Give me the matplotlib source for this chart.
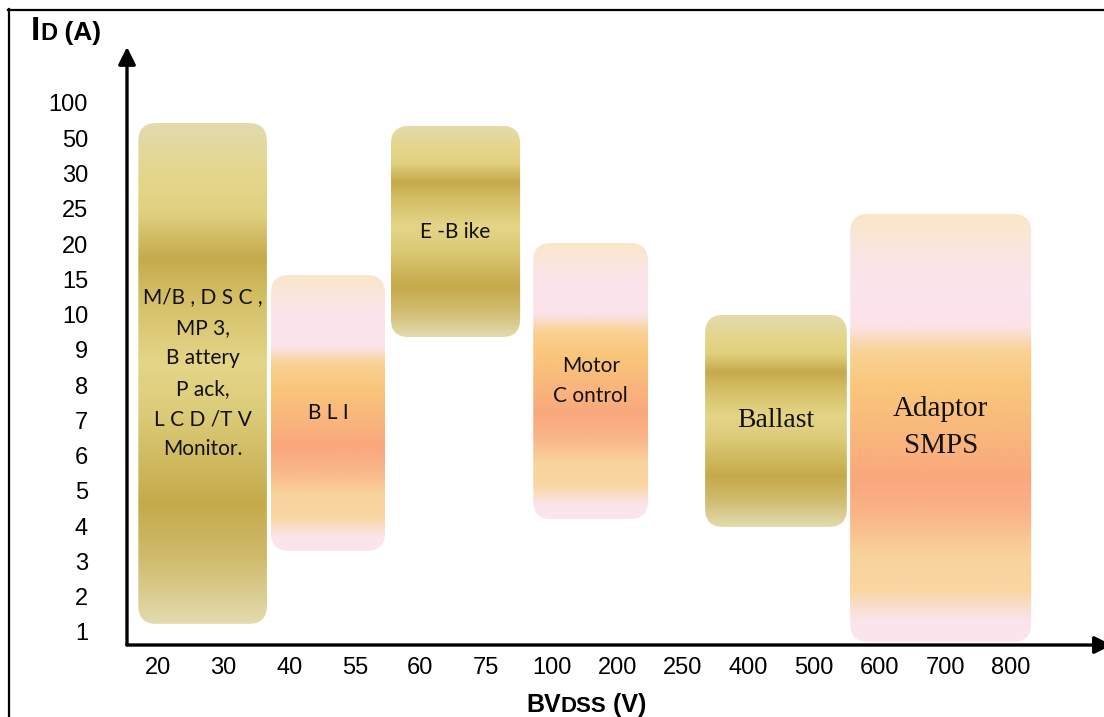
import numpy as np
import matplotlib
matplotlib.use("Agg")
import matplotlib.pyplot as plt
from matplotlib.colors import LinearSegmentedColormap
from matplotlib.patches import FancyBboxPatch
from matplotlib.lines import Line2D
from matplotlib.offsetbox import TextArea, HPacker, AnnotationBbox

# categorical axes
x_labels = ["20", "30", "40", "55", "60", "75", "100", "200", "250",
            "400", "500", "600", "700", "800"]
y_labels = ["1", "2", "3", "4", "5", "6", "7", "8", "9", "10",
            "15", "20", "25", "30", "50", "100"]

# application ranges, in category-index units (x: BVDSS, y: ID)
apps = ["M/B , D S C ,\nMP 3,\nB attery\nP ack,\nL C D /T V\nMonitor.",
        "B L I", "E -B ike", "Motor\nC ontrol", "Ballast", "Adaptor\nSMPS"]
app_x0 = [-0.30, 1.72, 3.55, 5.72, 8.34, 10.55]
app_x1 = [1.66, 3.46, 5.52, 7.47, 10.50, 13.31]
app_y0 = [0.23, 2.30, 8.36, 3.20, 2.98, -0.28]
app_y1 = [14.43, 10.12, 14.35, 11.03, 8.99, 11.85]
app_fill = ["gold", "peach", "gold", "peach", "gold", "peach"]

gold = LinearSegmentedColormap.from_list("gold", [
    (0.00, "#e3dbae"), (0.10, "#e4d68c"), (0.18, "#e0d07e"),
    (0.27, "#c5aa4b"), (0.35, "#d4bf66"), (0.48, "#e4d588"),
    (0.58, "#dccb78"), (0.76, "#c5aa4a"), (0.87, "#d0bb6c"),
    (1.00, "#e3dbae")])
peach = LinearSegmentedColormap.from_list("peach", [
    (0.00, "#f9e7c8"), (0.10, "#fbe5e4"), (0.18, "#fbe4ee"),
    (0.26, "#fbe3e8"), (0.32, "#f9d296"), (0.40, "#f9c77b"),
    (0.50, "#f9b97c"), (0.62, "#f9a87c"), (0.70, "#f9b488"),
    (0.80, "#f9d39c"), (0.88, "#f9d6a2"), (0.95, "#fbe4ec"),
    (1.00, "#fbe6ee")])
cmaps = {"gold": gold, "peach": peach}

fig = plt.figure(figsize=(11.04, 7.17), dpi=100)
W, H = 1104, 717
ax = fig.add_axes([127 / W, (H - 645) / H, (W - 127) / W, (645 - 47) / H])
xmin, xmax = -0.4726, 14.42
ymin, ymax = -0.3686, 16.586
ax.set_xlim(xmin, xmax)
ax.set_ylim(ymin, ymax)
for s in ax.spines.values():
    s.set_visible(False)

ax.set_xticks(range(len(x_labels)), x_labels)
ax.set_yticks(range(len(y_labels)), y_labels)
ax.tick_params(axis="x", length=0, pad=9, labelsize=17)
ax.tick_params(axis="y", length=0, pad=28, labelsize=17)
for lab in ax.get_xticklabels() + ax.get_yticklabels():
    lab.set_fontfamily("Liberation Sans")

# aspect between x and y units in pixels, so corners stay round
px_x = ax.get_position().width * W / (xmax - xmin)
px_y = ax.get_position().height * H / (ymax - ymin)
aspect = px_x / px_y
r = 18 / px_x

grad = np.linspace(0, 1, 256).reshape(-1, 1)
text_font = ["Lato", "DejaVu Sans"]
for name, x0, x1, y0, y1, fill in zip(apps, app_x0, app_x1, app_y0, app_y1, app_fill):
    patch = FancyBboxPatch((x0, y0), x1 - x0, y1 - y0,
                           boxstyle=f"round,pad=0,rounding_size={r}",
                           mutation_aspect=aspect, facecolor="none",
                           edgecolor="none", zorder=1)
    ax.add_patch(patch)
    im = ax.imshow(grad, cmap=cmaps[fill], extent=(x0, x1, y0, y1),
                   origin="upper", aspect="auto", interpolation="bilinear",
                   zorder=1)
    im.set_clip_path(patch)
    cx, cy = (x0 + x1) / 2, (y0 + y1) / 2
    if name in ("Ballast", "Adaptor\nSMPS"):
        size = 20 if name == "Ballast" else 21
        ax.text(cx, cy, name, ha="center", va="center", fontsize=size,
                family="Liberation Serif", color="#111111", linespacing=1.55,
                zorder=3)
    else:
        ax.text(cx, cy, name, ha="center", va="center", fontsize=15,
                family=text_font, color="#111111", linespacing=1.65, zorder=3)

# axes with arrow heads
arrow = dict(arrowstyle="-|>", lw=2.4, color="black", mutation_scale=26,
             shrinkA=0, shrinkB=0)
ax.annotate("", xy=(xmin, ymax), xytext=(xmin, ymin), arrowprops=arrow,
            annotation_clip=False, zorder=4)
ax.annotate("", xy=(xmax + 0.12, ymin), xytext=(xmin, ymin), arrowprops=arrow,
            annotation_clip=False, zorder=4)


def mixed_label(parts, x, y):
    areas = [TextArea(t, textprops=dict(size=s, weight="bold",
                                        family="Liberation Sans"))
             for t, s in parts]
    box = HPacker(children=areas, align="baseline", pad=0, sep=0)
    ab = AnnotationBbox(box, (x, y), xycoords="figure pixels",
                        box_alignment=(0, 0), frameon=False, pad=0)
    fig.add_artist(ab)


mixed_label([("I", 24), ("D", 17), (" (A)", 19)], 31, H - 47)
mixed_label([("BV", 18), ("DSS", 16), (" (V)", 18)], 526, H - 717)

# outer frame (cut by the image edges)
fig.add_artist(Line2D([8.5 / W, 8.5 / W], [0, 1 - 9 / H], transform=fig.transFigure,
                      color="black", lw=1.6))
fig.add_artist(Line2D([8 / W, 1], [1 - 9.5 / H, 1 - 9.5 / H], transform=fig.transFigure,
                      color="black", lw=1.6))

fig.savefig("out.png", dpi=100)
